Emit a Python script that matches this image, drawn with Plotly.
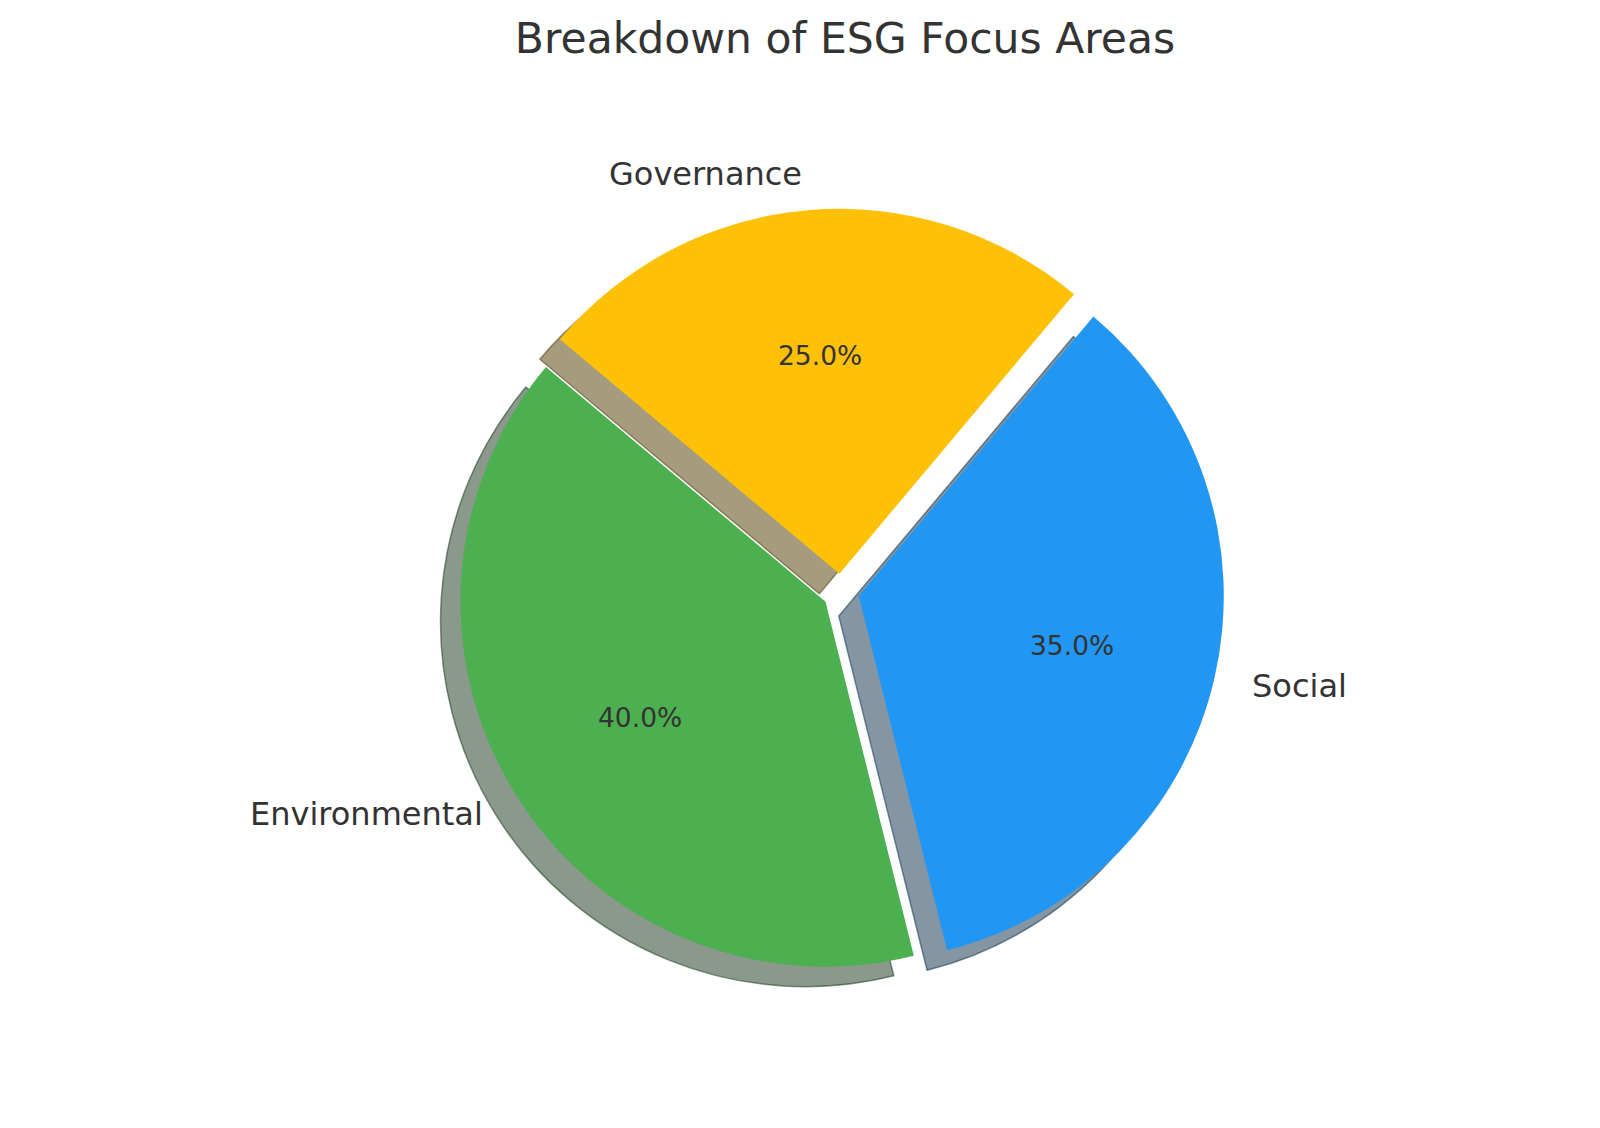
import math
import plotly.graph_objects as go

# data
labels = ["Environmental", "Social", "Governance"]
values = [40, 35, 25]
colors = ["#4CAF50", "#2196F3", "#FFC107"]
explode = [0.05, 0.05, 0.05]
start_angle = 140  # degrees, counterclockwise from 3 o'clock

# figure geometry (px); the page adds an 8px body margin
W, H = 1600, 1128
CX, CY = 833, 584
R = 365
SHADOW_DX, SHADOW_DY = -20, 20

total = sum(values)
max_pull = max(explode)


def px_domain(cx, cy):
    half = R * (1 + max_pull)
    return dict(x=[(cx - half) / W, (cx + half) / W],
                y=[1 - (cy + half) / H, 1 - (cy - half) / H])


def shade(hex_color):
    r, g, b = (int(hex_color[i:i + 2], 16) for i in (1, 3, 5))
    return "rgba(%d,%d,%d,0.5)" % (r * 0.3, g * 0.3, b * 0.3)


# plotly draws clockwise; reversing the order gives matplotlib's counterclockwise layout
rev = slice(None, None, -1)
common = dict(
    labels=labels[rev], values=values[rev], pull=explode[rev],
    sort=False, direction="clockwise", rotation=90 - start_angle,
    textinfo="none", showlegend=False,
)

fig = go.Figure()
fig.add_trace(go.Pie(
    domain=px_domain(CX + SHADOW_DX, CY + SHADOW_DY),
    marker=dict(colors=[shade(c) for c in colors[rev]],
                line=dict(color=[shade(c) for c in colors[rev]], width=1.5)),
    hoverinfo="skip",
    **common
))
fig.add_trace(go.Pie(
    domain=px_domain(CX, CY),
    marker=dict(colors=colors[rev], line=dict(width=0)),
    hoverinfo="label+percent",
    **common
))

# labels outside at 1.1r, percentages at 0.6r (matplotlib style)
angle = start_angle
for lab, val, pull in zip(labels, values, explode):
    span = 360 * val / total
    mid = math.radians(angle + span / 2)
    angle += span
    ux, uy = math.cos(mid), -math.sin(mid)
    sx, sy = CX + pull * R * ux, CY + pull * R * uy
    fig.add_annotation(
        x=(sx + 1.1 * R * ux) / W, y=1 - (sy + 1.1 * R * uy) / H,
        xref="paper", yref="paper", text=lab, showarrow=False,
        xanchor="left" if ux > 0 else "right", yanchor="middle",
        font=dict(family="DejaVu Sans", size=32, color="#333333"),
    )
    fig.add_annotation(
        x=(sx + 0.6 * R * ux) / W, y=1 - (sy + 0.6 * R * uy) / H,
        xref="paper", yref="paper", text="%.1f%%" % (100 * val / total),
        showarrow=False, xanchor="center", yanchor="middle",
        font=dict(family="DejaVu Sans", size=26.5, color="#333333"),
    )

fig.update_layout(
    width=W, height=H,
    margin=dict(l=0, r=0, t=0, b=0),
    paper_bgcolor="white", plot_bgcolor="white",
    title=dict(text="Breakdown of ESG Focus Areas", x=837 / W, xanchor="center",
               y=1 - 30 / H, yanchor="middle", yref="container",
               font=dict(family="DejaVu Sans", size=42.5, color="#333333")),
)

fig.write_html("out.html")
